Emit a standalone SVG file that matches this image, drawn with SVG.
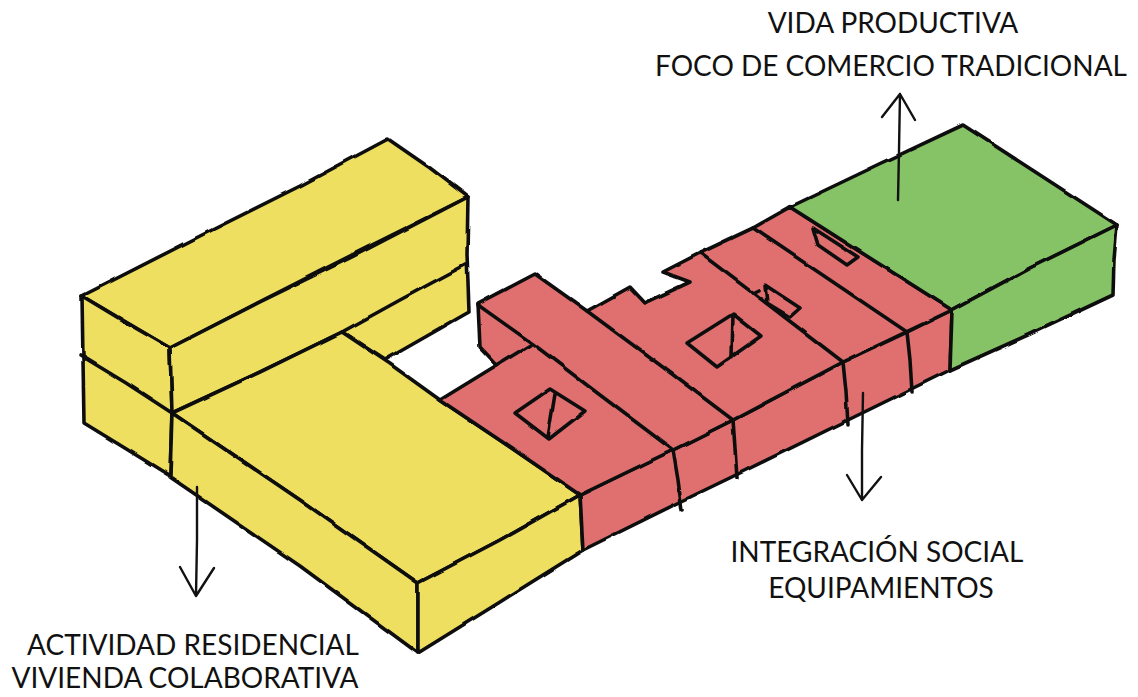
<svg xmlns="http://www.w3.org/2000/svg" width="1138" height="697" viewBox="0 0 1138 697">
  <style>
    .ink { fill: none; stroke: #111; stroke-width: 3.6; stroke-linecap: round; stroke-linejoin: round; }
    .face { stroke: #111; stroke-width: 3.6; stroke-linejoin: round; }
    .yel { fill: #EFDF60; }
    .red { fill: #E07070; }
    .grn { fill: #86C266; }
    .arrow { fill: none; stroke: #111; stroke-width: 2.4; stroke-linecap: round; stroke-linejoin: round; }
    .label { font-family: Lato, "Open Sans", "Liberation Sans", sans-serif; font-size: 28px; fill: #111; text-anchor: middle; }
    .sketch { filter: url(#wobble); }
  </style>
  <defs>
    <!-- slight hand-drawn tremor for the volumes -->
    <filter id="wobble" x="-5%" y="-5%" width="110%" height="110%">
      <feTurbulence type="fractalNoise" baseFrequency="0.035" numOctaves="2" seed="7" result="noise"/>
      <feDisplacementMap in="SourceGraphic" in2="noise" scale="3" xChannelSelector="R" yChannelSelector="G"/>
    </filter>
  </defs>

  <rect width="1138" height="697" fill="#fff"/>

  <!-- Residential block: tall bar plus low wing -->
  <g id="residential" class="sketch">
    <path class="face yel" d="M82,296 L200,236 L300,186 L388,139 L430,168 L468,197 L330,266 L240,312 L170,348 Z"/>
    <path class="face yel" d="M82,296 L125,322 L170,348 L172,410 L170,476 L128,450 L84,423 L83,360 Z"/>
    <path class="face yel" d="M170,348 L260,302 L350,258 L468,197 L467,255 L469,312 L385,360 L342,332 L260,372 L172,413 Z"/>
    <path class="face yel" d="M172,413 L260,372 L342,332 L390,364 L440,400 L510,447 L580,495 L500,540 L418,583 L300,500 Z"/>
    <path class="face yel" d="M172,413 L300,500 L418,583 L418,653 L300,566 L170,477 Z"/>
    <path class="face yel" d="M418,583 L500,540 L580,495 L583,550 L500,602 L418,653 Z"/>
    <path class="ink" d="M80,355 L126,383 L172,413"/>
    <path class="ink" d="M342,332 L400,300 L465,265"/>
  </g>

  <!-- Community facilities: stepped red volume -->
  <g id="facilities" class="sketch">
    <path class="face red" d="M580,495 L673,450 L733,420 L843,362 L907,332 L952,310 L950,370 L850,419 L740,473 L680,502 L583,550 Z"/>
    <path class="face red" d="M440,400 L497,365 L480,347 L478,304 L535,274 L587,311 L630,287 L645,303 L690,282 L663,272 L700,253 L753,228 L790,207 L870,258 L952,310 L843,362 L733,420 L673,450 L580,495 L510,447 Z"/>
    <path class="ink" d="M478,305 L533,344 L600,395 L673,450"/>
    <path class="ink" d="M587,311 L660,365 L733,420"/>
    <path class="ink" d="M700,253 L770,306 L843,362"/>
    <path class="ink" d="M753,228 L830,280 L907,332"/>
    <path class="ink" d="M497,365 L530,345"/>
    <path class="ink" d="M673,450 L678,480 L682,510"/>
    <path class="ink" d="M733,420 L735,448 L737,478"/>
    <path class="ink" d="M843,362 L846,392 L848,425"/>
    <path class="ink" d="M907,332 L910,360 L912,392"/>
    <!-- skylights and roof openings -->
    <path class="ink" d="M515,413 L550,389 L585,411 L549,439 Z M555,394 L548,437"/>
    <path class="ink" d="M687,343 L733,314 L761,336 L717,367 Z M733,314 L732,357"/>
    <path class="ink" d="M765,285 L800,308 L790,317 L767,303 Z M752,293 L758,290"/>
    <path class="ink" d="M813,228 L858,257 L847,265 L818,245 Z"/>
  </g>

  <!-- Productive use: green block -->
  <g id="productive" class="sketch">
    <path class="face grn" d="M790,207 L880,164 L963,125 L1040,175 L1117,225 L1030,268 L952,310 L870,258 Z"/>
    <path class="face grn" d="M952,310 L1030,268 L1117,225 L1114,260 L1113,295 L1030,334 L950,370 Z"/>
  </g>

  <g id="connectors">
    <path class="arrow" d="M197,487 L197,540 L196,595 M180,567 L196,596 L214,568"/>
    <path class="arrow" d="M863,393 L862,450 L862,500 M847,475 L862,500 L881,477"/>
    <path class="arrow" d="M898,200 L899,150 L900,94 M882,117 L900,94 L915,120"/>
  </g>

  <g id="labels">
    <text class="label" x="893" y="33">VIDA PRODUCTIVA</text>
    <text class="label" x="891" y="76">FOCO DE COMERCIO TRADICIONAL</text>
    <text class="label" x="877" y="562">INTEGRACIÓN SOCIAL</text>
    <text class="label" x="881" y="598">EQUIPAMIENTOS</text>
    <text class="label" x="193" y="655">ACTIVIDAD RESIDENCIAL</text>
    <text class="label" x="185" y="688">VIVIENDA COLABORATIVA</text>
  </g>
</svg>
